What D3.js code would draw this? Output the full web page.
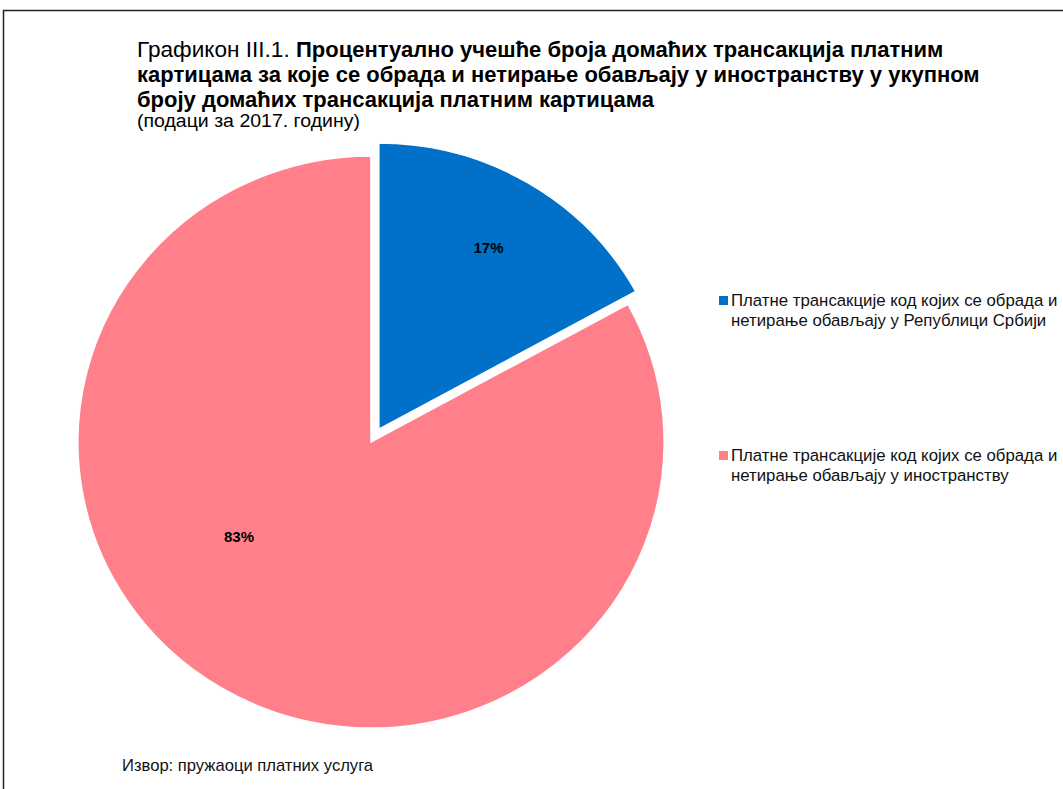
<!DOCTYPE html>
<html><head><meta charset="utf-8">
<script src="https://cdn.jsdelivr.net/npm/d3@7"></script>
<style>body{margin:0;background:#fff}svg{display:block}</style>
</head><body>
<svg id="c" width="1063" height="789"></svg>
<script>
const categories = [
  ["Платне трансакције код којих се обрада и", "нетирање обављају у Републици Србији"],
  ["Платне трансакције код којих се обрада и", "нетирање обављају у иностранству"]
];
const values = [17, 83];
const labels = ["17%", "83%"];
const colors = ["#0070C8", "#FF808B"];
const titleRegular = "Графикон III.1. ";
const titleBold = ["Процентуално учешће броја домаћих трансакција платним",
  "картицама за које се обрада и нетирање обављају у иностранству у укупном",
  "броју домаћих трансакција платним картицама"];
const subtitle = "(подаци за 2017. годину)";
const source = "Извор: пружаоци платних услуга";

const svg = d3.select("#c");
svg.append("rect").attr("x", 3.5).attr("y", 10.5).attr("width", 1080).attr("height", 800)
  .attr("fill", "none").attr("stroke", "#222").attr("stroke-width", 1.5);

const font = "'Liberation Sans',Arial,sans-serif";
const t = svg.append("text").attr("x", 137).attr("y", 57).attr("font-family", font).attr("font-size", 22).attr("fill", "#000");
t.append("tspan").attr("font-size", 22.6).text(titleRegular);
t.append("tspan").attr("font-weight", "bold").text(titleBold[0]);
titleBold.slice(1).forEach((l, i) => {
  svg.append("text").attr("x", 137).attr("y", 82 + i * 24.5).attr("font-family", font)
    .attr("font-size", 22).attr("font-weight", "bold").text(l);
});
svg.append("text").attr("x", 137).attr("y", 127).attr("font-family", font).attr("font-size", 18)
  .attr("textLength", 223).attr("lengthAdjust", "spacingAndGlyphs").text(subtitle);

const cx = 371, cy = 442, r = 286, sx = 1.025;
const pie = d3.pie().sort(null).value(d => d)(values);
const arc = d3.arc().innerRadius(0).outerRadius(r);
const g = svg.append("g").attr("transform", `translate(${cx},${cy}) scale(${sx},1)`);
const explode = [15, 0];
const mid = d => (d.startAngle + d.endAngle) / 2;
g.selectAll("path").data(pie).join("path")
  .attr("d", arc)
  .attr("fill", (d, i) => colors[i])
  .attr("stroke", "#fff").attr("stroke-width", 1.5)
  .attr("transform", (d, i) => `translate(${Math.sin(mid(d)) * explode[i]},${-Math.cos(mid(d)) * explode[i]})`);
const labelR = [0.735, 0.56];
const labelShift = [0, 0.4];
svg.selectAll("text.lbl").data(pie).join("text").attr("class", "lbl")
  .attr("x", (d, i) => cx + sx * (Math.sin(mid(d)) * explode[i] + Math.sin(mid(d) + labelShift[i]) * r * labelR[i]))
  .attr("y", (d, i) => cy - (Math.cos(mid(d)) * explode[i] + Math.cos(mid(d) + labelShift[i]) * r * labelR[i]) + 5)
  .attr("text-anchor", "middle").attr("font-family", font)
  .attr("font-weight", "bold").attr("font-size", 15).text((d, i) => labels[i]);

const legY = [306, 461];
categories.forEach((c, i) => {
  svg.append("rect").attr("x", 719).attr("y", legY[i] - 10).attr("width", 9).attr("height", 9).attr("fill", colors[i]);
  c.forEach((l, j) => svg.append("text").attr("x", 731).attr("y", legY[i] + j * 20)
    .attr("font-family", font).attr("font-size", 16.8).attr("fill", "#111").text(l));
});
svg.append("text").attr("x", 122).attr("y", 771).attr("font-family", font)
  .attr("font-size", 16.6).attr("fill", "#111").text(source);
</script>
</body></html>
